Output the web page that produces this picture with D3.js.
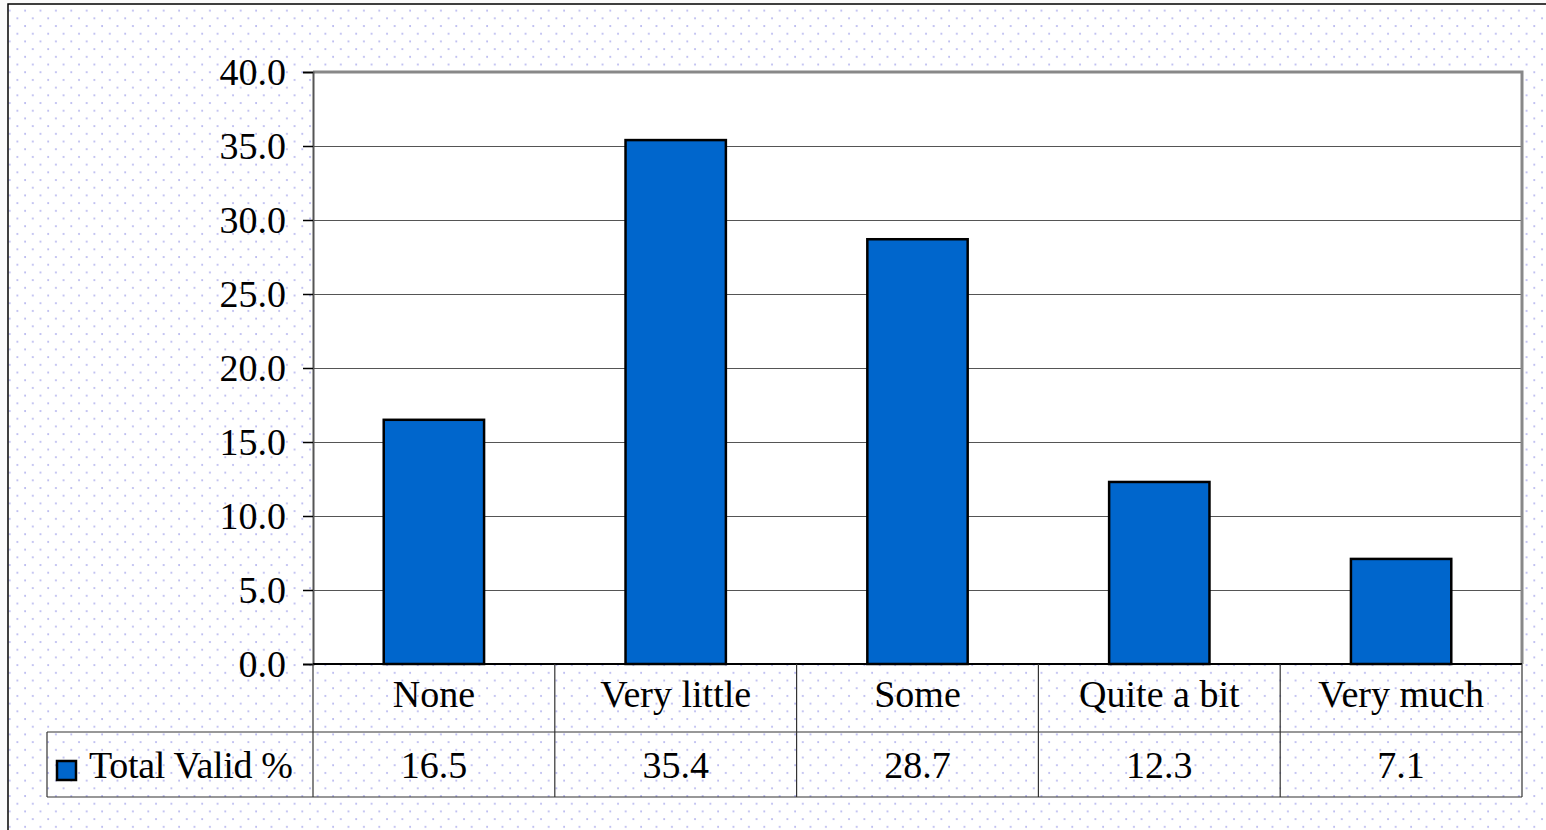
<!DOCTYPE html>
<html>
<head>
<meta charset="utf-8">
<title>Total Valid %</title>
<style>
  body { margin: 0; background: #fff; }
</style>
</head>
<body>
<script src="https://cdn.jsdelivr.net/npm/d3@7"></script>
<script>

var categories = ["None", "Very little", "Some", "Quite a bit", "Very much"];
var values     = [16.5, 35.4, 28.7, 12.3, 7.1];
var valueLabels = ["16.5", "35.4", "28.7", "12.3", "7.1"];
var yTicks     = [0, 5, 10, 15, 20, 25, 30, 35, 40];
var seriesName = "Total Valid %";

var W = 1546, H = 830;
var plot = {left: 313, right: 1522, top: 72, bottom: 664};
var tableRow1 = 732, tableRow2 = 797, legendLeft = 47;
var font = "'Liberation Serif', 'Times New Roman', serif";
var fontSize = 38;

var svg = d3.select("body").append("svg")
    .attr("width", W)
    .attr("height", H);

// dotted background
var defs = svg.append("defs");
var pat = defs.append("pattern")
    .attr("id", "dots")
    .attr("patternUnits", "userSpaceOnUse")
    .attr("width", 15.4)
    .attr("height", 15.4);
pat.append("circle").attr("cx", 2).attr("cy", 3).attr("r", 1).attr("fill", "#b4b4ee");
pat.append("circle").attr("cx", 9.7).attr("cy", 10.7).attr("r", 1).attr("fill", "#b4b4ee");

svg.append("rect").attr("width", W).attr("height", H).attr("fill", "#fbfbfb");
svg.append("rect")
    .attr("x", 8).attr("y", 4)
    .attr("width", W).attr("height", H)
    .attr("fill", "#fff");
svg.append("rect")
    .attr("x", 8).attr("y", 4)
    .attr("width", W).attr("height", H)
    .attr("fill", "url(#dots)")
    .attr("stroke", "#000")
    .attr("stroke-width", 1.5);

// scales
var x = d3.scaleBand().domain(categories).range([plot.left, plot.right]).padding(0);
var xBar = d3.scaleBand().domain(categories).range([plot.left, plot.right])
    .paddingInner(0.585).paddingOuter(0.2925);
var y = d3.scaleLinear().domain([0, 40]).range([plot.bottom, plot.top]);

// plot area
svg.append("rect")
    .attr("x", plot.left).attr("y", plot.top)
    .attr("width", plot.right - plot.left)
    .attr("height", plot.bottom - plot.top)
    .attr("fill", "#fff");

// gridlines
svg.append("g")
    .selectAll("line")
    .data(yTicks.filter(function(d) { return d > 0 && d < 40; }))
    .enter().append("line")
    .attr("x1", plot.left).attr("x2", plot.right)
    .attr("y1", function(d) { return Math.round(y(d)) + 0.5; })
    .attr("y2", function(d) { return Math.round(y(d)) + 0.5; })
    .attr("stroke", "#555")
    .attr("stroke-width", 1.2);

// plot frame: top and right in gray
svg.append("path")
    .attr("d", "M" + plot.left + "," + plot.top + "H" + plot.right + "V" + plot.bottom)
    .attr("fill", "none")
    .attr("stroke", "#888")
    .attr("stroke-width", 3);

// bars
svg.append("g")
    .selectAll("rect")
    .data(values)
    .enter().append("rect")
    .attr("x", function(d, i) { return xBar(categories[i]); })
    .attr("y", function(d) { return y(d); })
    .attr("width", xBar.bandwidth())
    .attr("height", function(d) { return y(0) - y(d); })
    .attr("fill", "#0066cc")
    .attr("stroke", "#000")
    .attr("stroke-width", 2.5);

// y axis
var yAxis = svg.append("g")
    .attr("transform", "translate(" + plot.left + ",0)")
    .call(d3.axisLeft(y).tickValues(yTicks).tickFormat(d3.format(".1f"))
        .tickSize(10).tickPadding(17));
yAxis.select(".domain").attr("stroke", "#555").attr("stroke-width", 2);
yAxis.selectAll(".tick line").attr("stroke", "#000").attr("stroke-width", 1.5);
yAxis.selectAll(".tick text")
    .attr("font-family", font)
    .attr("font-size", fontSize)
    .attr("fill", "#000");

// bottom axis line
svg.append("line")
    .attr("x1", plot.left).attr("x2", plot.right)
    .attr("y1", plot.bottom).attr("y2", plot.bottom)
    .attr("stroke", "#000")
    .attr("stroke-width", 2);

// data table
var table = svg.append("g")
    .attr("stroke", "#333")
    .attr("stroke-width", 1.2);

var bounds = categories.map(function(c) { return x(c); }).concat([plot.right]);
table.selectAll("line.v")
    .data(bounds)
    .enter().append("line")
    .attr("class", "v")
    .attr("x1", function(d) { return d; }).attr("x2", function(d) { return d; })
    .attr("y1", plot.bottom).attr("y2", tableRow2);

table.append("line")
    .attr("x1", legendLeft).attr("x2", legendLeft)
    .attr("y1", tableRow1).attr("y2", tableRow2);

table.selectAll("line.h")
    .data([tableRow1, tableRow2])
    .enter().append("line")
    .attr("class", "h")
    .attr("x1", legendLeft).attr("x2", plot.right)
    .attr("y1", function(d) { return d; }).attr("y2", function(d) { return d; });

// category labels
svg.append("g")
    .selectAll("text")
    .data(categories)
    .enter().append("text")
    .attr("x", function(d) { return x(d) + x.bandwidth() / 2; })
    .attr("y", 694)
    .attr("dy", "0.35em")
    .attr("text-anchor", "middle")
    .attr("font-family", font)
    .attr("font-size", fontSize)
    .text(function(d) { return d; });

// value labels
svg.append("g")
    .selectAll("text")
    .data(valueLabels)
    .enter().append("text")
    .attr("x", function(d, i) { return x(categories[i]) + x.bandwidth() / 2; })
    .attr("y", 765)
    .attr("dy", "0.35em")
    .attr("text-anchor", "middle")
    .attr("font-family", font)
    .attr("font-size", fontSize)
    .text(function(d) { return d; });

// legend key
svg.append("rect")
    .attr("x", 57).attr("y", 761)
    .attr("width", 19).attr("height", 19)
    .attr("fill", "#0066cc")
    .attr("stroke", "#000")
    .attr("stroke-width", 2.5);

svg.append("text")
    .attr("x", 89)
    .attr("y", 765)
    .attr("dy", "0.35em")
    .attr("font-family", font)
    .attr("font-size", fontSize)
    .attr("textLength", 204)
    .text(seriesName);

</script>
</body>
</html>
